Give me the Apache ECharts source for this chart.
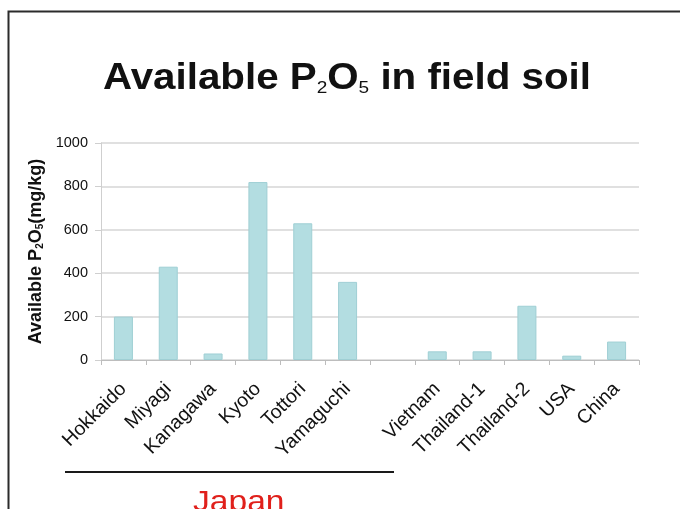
<!DOCTYPE html>
<html>
<head>
<meta charset="utf-8">
<script src="https://cdn.jsdelivr.net/npm/echarts@6/dist/echarts.min.js"></script>
<style>
  html, body { margin: 0; padding: 0; background: #fff; }
  #chart { width: 680px; height: 509px; }
</style>
</head>
<body>
<div id="chart"></div>
<script>
// Sampling sites (blank slot separates Japan from the other countries)
const categories = ['Hokkaido', 'Miyagi', 'Kanagawa', 'Kyoto', 'Tottori', 'Yamaguchi', '',
  'Vietnam', 'Thailand-1', 'Thailand-2', 'USA', 'China'];
// Available P2O5, mg/kg
const p2o5Values = [200, 430, 30, 820, 630, 360, null, 40, 40, 250, 20, 85];
const yTicks = [0, 200, 400, 600, 800, 1000];

const FONT = '"Liberation Sans", Arial, sans-serif';
const chart = echarts.init(document.getElementById('chart'), null, { renderer: 'canvas' });

chart.setOption({
  animation: false,
  backgroundColor: '#ffffff',
  grid: { left: 101, right: 41, top: 143, bottom: 149, containLabel: false },
  xAxis: {
    type: 'category',
    data: categories,
    axisLine: { show: true, lineStyle: { color: '#bdbdbd', width: 1 } },
    axisTick: { show: true, alignWithLabel: false, length: 5, lineStyle: { color: '#bdbdbd' } },
    axisLabel: {
      interval: 0,
      rotate: 45,
      margin: 26,
      fontFamily: FONT,
      fontSize: 19.5,
      color: '#111'
    }
  },
  yAxis: {
    type: 'value',
    min: 0,
    max: yTicks[yTicks.length - 1],
    interval: yTicks[1] - yTicks[0],
    name: '{b|Available P}{s|2}{b|O}{s|5}{b|(mg/kg)}',
    nameLocation: 'middle',
    nameGap: 54,
    nameRotate: 90,
    nameTextStyle: {
      rich: {
        b: { fontFamily: FONT, fontWeight: 'bold', fontSize: 18, color: '#111', verticalAlign: 'bottom', lineHeight: 20 },
        s: { fontFamily: FONT, fontWeight: 'bold', fontSize: 10, color: '#111', verticalAlign: 'bottom', lineHeight: 20 }
      }
    },
    axisLine: { show: true, lineStyle: { color: '#cfcfcf', width: 1 } },
    axisTick: { show: true, length: 6, lineStyle: { color: '#cfcfcf' } },
    axisLabel: {
      fontFamily: FONT, fontSize: 14.5, color: '#111', margin: 13,
      formatter: (v) => String(v)
    },
    splitLine: { show: true, lineStyle: { color: '#d6d6d6', width: 1.5 } }
  },
  series: [{
    type: 'bar',
    data: p2o5Values,
    barWidth: 19,
    itemStyle: { color: '#b3dde1', borderColor: '#9fcfd4', borderWidth: 1 }
  }],
  graphic: [
    // slide frame
    { type: 'polyline', shape: { points: [[8.5, 509], [8.5, 11.5], [680, 11.5]] },
      style: { stroke: '#2b2b2b', lineWidth: 2, fill: null }, silent: true },
    // slide title with subscripted formula
    { type: 'text', x: 347, y: 77, scaleX: 1.12, silent: true,
      style: {
        x: 0, y: 0, align: 'center', verticalAlign: 'middle',
        text: '{b|Available P}{s|2}{b|O}{s|5}{b| in field soil}',
        rich: {
          b: { fontFamily: FONT, fontWeight: 'bold', fontSize: 36, fill: '#111', verticalAlign: 'bottom', lineHeight: 40 },
          s: { fontFamily: FONT, fontWeight: 'normal', fontSize: 17, fill: '#111', verticalAlign: 'bottom', lineHeight: 40 }
        }
      } },
    // Japan group bracket
    { type: 'line', shape: { x1: 65, y1: 472, x2: 394, y2: 472 },
      style: { stroke: '#1a1a1a', lineWidth: 2 }, silent: true },
    { type: 'text', x: 193, y: 488, scaleX: 1.12, silent: true,
      style: { x: 0, y: 0, text: 'Japan', fontFamily: FONT, fontSize: 30, fill: '#e0201b' } }
  ]
});
</script>
</body>
</html>
